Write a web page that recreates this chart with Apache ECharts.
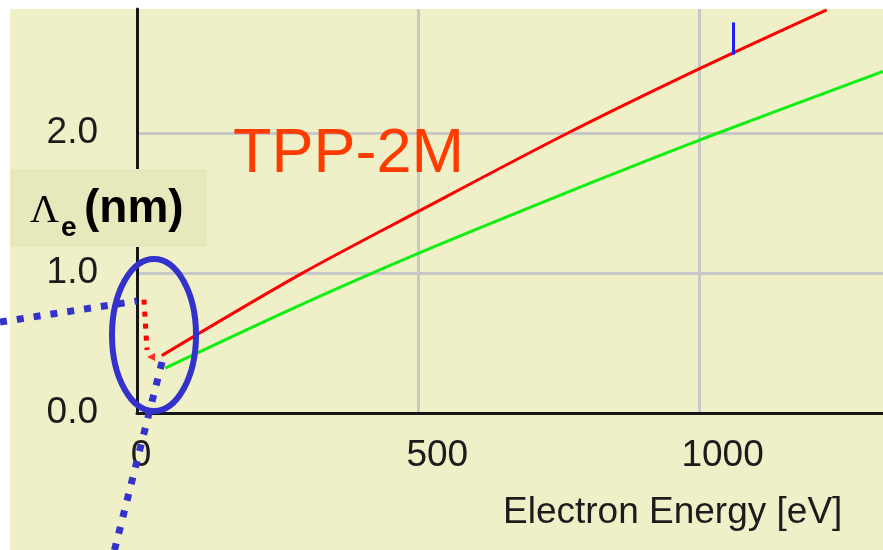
<!DOCTYPE html>
<html>
<head>
<meta charset="utf-8">
<title>TPP-2M IMFP</title>
<script src="https://cdn.jsdelivr.net/npm/echarts@6/dist/echarts.min.js"></script>
<style>
  html, body { margin: 0; padding: 0; background: #ffffff; }
  #wrap { position: relative; width: 883px; height: 550px; overflow: hidden; }
  #paper { position: absolute; left: 10px; top: 9px; right: 0; bottom: 0; background: #EFEFC8; }
  #chart { position: absolute; left: 0; top: 0; width: 883px; height: 550px; }
</style>
</head>
<body>
<div id="wrap"><div id="paper"></div><div id="chart"></div></div>
<script>
// Inelastic mean free path (nm) against electron energy (eV), TPP-2M
const redEnergy   = [44, 290, 500, 766, 1000, 1226];
const redImfp     = [0.41, 0.99, 1.44, 2.00, 2.46, 2.88];
const greenEnergy = [50, 290, 500, 823, 1000, 1326];
const greenImfp   = [0.32, 0.77, 1.14, 1.67, 1.95, 2.44];

// dotted low-energy trend and its arrow tip
const lowEnergy   = [12.4, 17.8];
const lowImfp     = [0.81, 0.45];
const arrowTip    = [24.9, 0.40];

// energy cursor
const cursorEnergy = 1060;
const cursorRange  = [2.56, 2.79];

// axes
const xTicks      = [0, 500, 1000];
const xTickLabels = ['0', '500', '1000'];
const yTicks      = [0, 1, 2];
const yTickLabels = ['0.0', '1.0', '2.0'];
const xMax = 1326;
const yMax = 2.886;

const zip = (a, b) => a.map((v, i) => [v, b[i]]);

const tickFont = { fontFamily: 'Liberation Sans', fontSize: 37, color: '#1c1c1c' };
const xRich = {};
const xPads = [8, 38, 46];
xTickLabels.forEach((t, i) => {
  xRich['t' + i] = Object.assign({ padding: [0, 0, 0, xPads[i]] }, tickFont);
});

const BLUE = '#3333CC';

const chart = echarts.init(document.getElementById('chart'), null, { renderer: 'canvas' });
chart.setOption({
  animation: false,
  backgroundColor: 'transparent',
  grid: { left: 137, right: 0, top: 9, bottom: 137, containLabel: false },
  xAxis: {
    type: 'value', min: 0, max: xMax, interval: 500,
    axisLine: { show: true, onZero: false, lineStyle: { color: '#161616', width: 3 } },
    axisTick: { show: false },
    splitLine: { show: true, showMinLine: false, showMaxLine: false,
                 lineStyle: { color: '#C8C8C8', width: 3 } },
    axisLabel: {
      margin: 24, showMaxLabel: false,
      formatter: v => { const i = xTicks.indexOf(v); return i < 0 ? '' : '{t' + i + '|' + xTickLabels[i] + '}'; },
      rich: xRich
    }
  },
  yAxis: {
    type: 'value', min: 0, max: yMax, interval: 1,
    axisLine: { show: true, onZero: false, lineStyle: { color: '#161616', width: 3 } },
    axisTick: { show: false },
    splitLine: { show: true, showMinLine: false, showMaxLine: false,
                 lineStyle: { color: '#C8C8C8', width: 3 } },
    axisLabel: Object.assign({
      margin: 39, showMaxLabel: false, padding: [0, 0, 11, 0],
      formatter: v => { const i = yTicks.indexOf(v); return i < 0 ? '' : yTickLabels[i]; }
    }, tickFont)
  },
  series: [
    {
      name: 'red', type: 'line', data: zip(redEnergy, redImfp),
      smooth: 0.3, showSymbol: false, clip: true, z: 4,
      lineStyle: { color: '#FF0000', width: 3 },
      markLine: {
        silent: true, symbol: 'none', label: { show: false },
        lineStyle: { color: '#2020EE', width: 3, type: 'solid' },
        data: [[{ coord: [cursorEnergy, cursorRange[0]] }, { coord: [cursorEnergy, cursorRange[1]] }]]
      }
    },
    {
      name: 'green', type: 'line', data: zip(greenEnergy, greenImfp),
      smooth: 0.3, showSymbol: false, clip: true, z: 3,
      lineStyle: { color: '#11EE11', width: 3 }
    },
    {
      name: 'low', type: 'line', data: zip(lowEnergy, lowImfp),
      showSymbol: false, clip: false, z: 5,
      lineStyle: { color: '#FF0000', width: 5, type: [5, 7], cap: 'butt' }
    },
    {
      name: 'tip', type: 'scatter', data: [arrowTip], clip: false, z: 5,
      symbol: 'triangle', symbolSize: [8, 8], symbolRotate: 90,
      itemStyle: { color: '#FF0000' }
    }
  ],
  graphic: [
    { type: 'rect', z: 50, silent: true,
      shape: { x: 10, y: 169, width: 197, height: 78 },
      style: { fill: '#E8E8BD' } },
    { type: 'text', z: 51, silent: true, x: 30, y: 211,
      style: { text: 'Λ', font: '40px "Liberation Serif"', fill: '#000', verticalAlign: 'middle', align: 'left' } },
    { type: 'text', z: 51, silent: true, x: 61, y: 228,
      style: { text: 'e', font: 'bold 28px "Liberation Sans"', fill: '#000', verticalAlign: 'middle', align: 'left' } },
    { type: 'text', z: 51, silent: true, x: 84, y: 209,
      style: { text: '(nm)', font: 'bold 46px "Liberation Sans"', fill: '#000', verticalAlign: 'middle', align: 'left' } },
    { type: 'text', z: 51, silent: true, x: 233, y: 155,
      style: { text: 'TPP-2M', font: '63px "Liberation Sans"', fill: '#FF3C00', verticalAlign: 'middle', align: 'left' } },
    { type: 'text', z: 51, silent: true, x: 503, y: 513,
      style: { text: 'Electron Energy [eV]', font: '37px "Liberation Sans"', fill: '#1c1c1c', verticalAlign: 'middle', align: 'left' } },
    { type: 'line', z: 60, silent: true,
      shape: { x1: 0, y1: 322, x2: 137, y2: 301 },
      style: { stroke: BLUE, lineWidth: 7, lineDash: [7, 10] } },
    { type: 'line', z: 60, silent: true,
      shape: { x1: 162, y1: 362, x2: 113, y2: 556 },
      style: { stroke: BLUE, lineWidth: 7, lineDash: [7, 10] } },
    { type: 'ellipse', z: 61, silent: true,
      shape: { cx: 154, cy: 335, rx: 42, ry: 76 },
      style: { fill: null, stroke: BLUE, lineWidth: 6 } }
  ]
});
</script>
</body>
</html>
